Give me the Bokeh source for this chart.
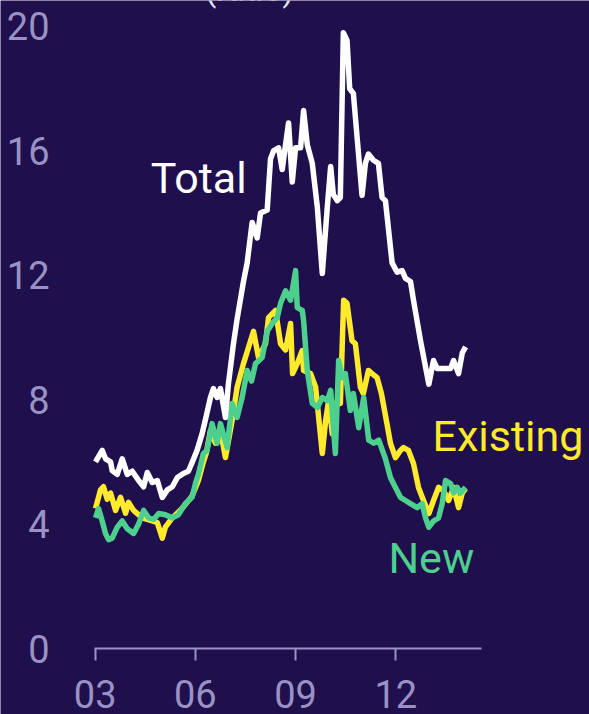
from bokeh.plotting import figure
from bokeh.models import Range1d, FixedTicker, Label
from bokeh.embed import file_html
from bokeh.resources import INLINE

# ---- data (decimal years, ratio) ----
total_x = [2003.01, 2003.21, 2003.31, 2003.46, 2003.51, 2003.66, 2003.81, 2003.96, 2004.11, 2004.30,
           2004.45, 2004.56, 2004.71, 2004.86, 2005.01, 2005.16, 2005.31, 2005.46, 2005.64, 2005.79,
           2005.91, 2006.05, 2006.20, 2006.33, 2006.45, 2006.54, 2006.65, 2006.75, 2006.90, 2006.99,
           2007.14, 2007.25, 2007.44, 2007.55, 2007.70, 2007.85, 2007.95, 2008.15, 2008.25, 2008.34,
           2008.49, 2008.60, 2008.70, 2008.79, 2008.90, 2009.00, 2009.15, 2009.24, 2009.35, 2009.50,
           2009.65, 2009.80, 2009.95, 2010.05, 2010.13, 2010.25, 2010.34, 2010.43, 2010.54, 2010.62,
           2010.73, 2010.99, 2011.09, 2011.18, 2011.33, 2011.48, 2011.59, 2011.69, 2011.89, 2012.04,
           2012.19, 2012.29, 2012.44, 2012.53, 2012.74, 2012.99, 2013.13, 2013.24, 2013.43, 2013.64,
           2013.73, 2013.88, 2013.99, 2014.09]
total_y = [6.0, 6.37, 6.1, 6.0, 5.72, 5.6, 6.1, 5.6, 5.7, 5.4,
           5.2, 5.66, 5.34, 5.4, 4.86, 5.1, 5.2, 5.5, 5.63, 5.7,
           6.0, 6.37, 6.9, 7.5, 8.07, 8.36, 8.07, 8.36, 7.43, 8.52,
           9.8, 10.6, 11.8, 12.4, 13.7, 13.2, 14.0, 14.1, 15.75, 16.0,
           16.1, 15.4, 16.2, 16.9, 15.0, 16.1, 16.1, 17.3, 16.2, 15.6,
           14.2, 12.06, 14.2, 15.5, 14.6, 14.4, 14.5, 19.8, 19.55, 18.0,
           17.85, 14.57, 15.6, 15.9, 15.7, 15.6, 14.5, 14.4, 12.4, 12.1,
           12.15, 11.9, 11.8, 11.2, 9.9, 8.5, 9.26, 9.0, 9.0, 9.0,
           9.26, 8.84, 9.5, 9.7]

existing_x = [2003.01, 2003.16, 2003.25, 2003.36, 2003.46, 2003.61, 2003.76, 2003.91, 2004.00, 2004.15,
              2004.41, 2004.71, 2004.86, 2005.01, 2005.10, 2005.31, 2005.60, 2005.90, 2006.09, 2006.24,
              2006.33, 2006.45, 2006.60, 2006.75, 2006.90, 2007.10, 2007.25, 2007.44, 2007.59, 2007.74,
              2007.89, 2008.10, 2008.19, 2008.40, 2008.55, 2008.70, 2008.85, 2008.91, 2009.05, 2009.20,
              2009.24, 2009.45, 2009.60, 2009.80, 2009.90, 2009.99, 2010.10, 2010.25, 2010.34, 2010.44,
              2010.54, 2010.69, 2010.79, 2010.94, 2011.03, 2011.18, 2011.29, 2011.44, 2011.57, 2011.74,
              2011.84, 2011.99, 2012.14, 2012.23, 2012.38, 2012.53, 2012.68, 2012.83, 2012.99, 2013.13,
              2013.28, 2013.43, 2013.58, 2013.73, 2013.88, 2013.99, 2014.09]
existing_y = [4.5, 5.1, 5.2, 4.8, 5.0, 4.44, 4.86, 4.35, 4.7, 4.44,
              4.2, 4.1, 4.05, 3.55, 3.9, 4.2, 4.5, 4.9, 5.4, 6.0,
              6.3, 7.0, 6.6, 7.0, 6.14, 7.33, 8.4, 9.16, 9.68, 10.2,
              9.36, 9.8, 10.64, 10.87, 9.8, 9.6, 10.45, 8.84, 9.16, 9.58,
              8.94, 8.84, 8.4, 6.27, 7.33, 7.97, 6.9, 7.97, 7.88, 11.2,
              11.1, 9.9, 9.8, 8.4, 8.2, 8.94, 8.84, 8.71, 8.2, 7.2,
              6.6, 6.14, 6.37, 6.46, 6.37, 5.95, 5.18, 4.76, 4.34, 4.76,
              5.18, 5.08, 4.76, 5.18, 4.53, 5.0, 5.14]

new_x = [2003.01, 2003.10, 2003.21, 2003.31, 2003.40, 2003.51, 2003.66, 2003.81, 2003.96, 2004.15,
         2004.30, 2004.45, 2004.60, 2004.75, 2004.90, 2005.10, 2005.31, 2005.49, 2005.70, 2005.90,
         2006.00, 2006.09, 2006.24, 2006.35, 2006.50, 2006.65, 2006.75, 2006.95, 2007.10, 2007.25,
         2007.40, 2007.55, 2007.68, 2007.80, 2008.00, 2008.15, 2008.30, 2008.45, 2008.55, 2008.70,
         2008.85, 2009.00, 2009.05, 2009.20, 2009.24, 2009.35, 2009.50, 2009.65, 2009.80, 2009.95,
         2010.05, 2010.19, 2010.29, 2010.40, 2010.49, 2010.64, 2010.73, 2010.89, 2011.04, 2011.19,
         2011.34, 2011.49, 2011.69, 2011.84, 2011.99, 2012.14, 2012.29, 2012.44, 2012.64, 2012.79,
         2012.89, 2012.99, 2013.13, 2013.28, 2013.39, 2013.49, 2013.64, 2013.73, 2013.84, 2013.94,
         2014.09]
new_y = [4.2, 4.5, 4.1, 3.7, 3.5, 3.55, 3.9, 4.1, 3.85, 3.7,
         4.0, 4.44, 4.2, 4.15, 4.34, 4.3, 4.2, 4.3, 4.66, 4.86,
         5.3, 5.6, 6.27, 6.37, 7.23, 6.6, 7.23, 6.46, 7.88, 7.43,
         8.07, 8.94, 8.6, 9.16, 9.36, 10.2, 10.45, 10.64, 11.1, 11.5,
         11.2, 12.15, 10.96, 10.87, 10.55, 8.94, 7.88, 7.75, 8.07, 7.97,
         8.3, 6.27, 9.26, 8.71, 8.84, 7.65, 8.2, 7.1, 8.07, 6.7,
         6.6, 6.7, 6.1, 5.5, 5.18, 4.86, 4.76, 4.66, 4.53, 4.66,
         4.2, 3.9, 4.1, 4.2, 4.66, 5.4, 5.3, 5.0, 5.18, 5.0,
         5.18]

x_ticks = [2003, 2006, 2009, 2012]
x_tick_labels = ["03", "06", "09", "12"]
y_ticks = [0, 4, 8, 12, 16, 20]

BG = "#1f0f4c"
AXIS_COL = "#9a92c4"
WHITE = "#ffffff"
YELLOW = "#ffea2c"
GREEN = "#4dcf8e"
FONT = "Roboto"

X0, X1 = 2002.98, 2014.57   # extent of the drawn time axis

p = figure(width=589, height=714, output_backend="svg", toolbar_location=None,
           x_range=Range1d(2000.165, 2017.80), y_range=Range1d(-2.122, 20.836),
           min_border_left=0, min_border_right=0, min_border_top=0, min_border_bottom=0,
           background_fill_color=BG, border_fill_color=BG, outline_line_color=None)
p.grid.visible = False

xa = p.xaxis[0]
xa.fixed_location = 0
xa.ticker = FixedTicker(ticks=x_ticks)
xa.major_label_overrides = {t: l for t, l in zip(x_ticks, x_tick_labels)}
xa.bounds = (X0, X1)
xa.axis_line_color = AXIS_COL
xa.axis_line_width = 2
xa.major_tick_line_color = AXIS_COL
xa.major_tick_line_width = 2
xa.major_tick_out = 12
xa.major_tick_in = 0
xa.minor_tick_line_color = None
xa.major_label_text_font = FONT
xa.major_label_text_font_size = "38px"
xa.major_label_text_color = AXIS_COL
xa.major_label_standoff = 19

ya = p.yaxis[0]
ya.fixed_location = X0
ya.bounds = (0, 20)
ya.ticker = FixedTicker(ticks=y_ticks)
ya.axis_line_color = None
ya.major_tick_line_color = None
ya.minor_tick_line_color = None
ya.major_label_text_font = FONT
ya.major_label_text_font_size = "38px"
ya.major_label_text_color = AXIS_COL
ya.major_label_standoff = 39

p.line(existing_x, existing_y, line_color=YELLOW, line_width=5.5, line_join="round")
p.line(new_x, new_y, line_color=GREEN, line_width=5.5, line_join="round")
p.line(total_x, total_y, line_color=WHITE, line_width=5.5, line_join="round")

for txt, x, y, col in [("Total", 2004.66, 15.14, WHITE),
                       ("Existing", 2013.10, 6.84, YELLOW),
                       ("New", 2011.78, 2.92, GREEN)]:
    p.add_layout(Label(x=x, y=y, text=txt, text_color=col, text_font=FONT,
                       text_font_size="43px", text_baseline="alphabetic", text_align="left"))

p.add_layout(Label(x=2007.62, y=21.2, text="(ratio)", text_color="#e6e3f2", text_font=FONT,
                   text_font_size="33px", text_baseline="alphabetic", text_align="center"))

open("out.html", "w").write(file_html(p, INLINE))
